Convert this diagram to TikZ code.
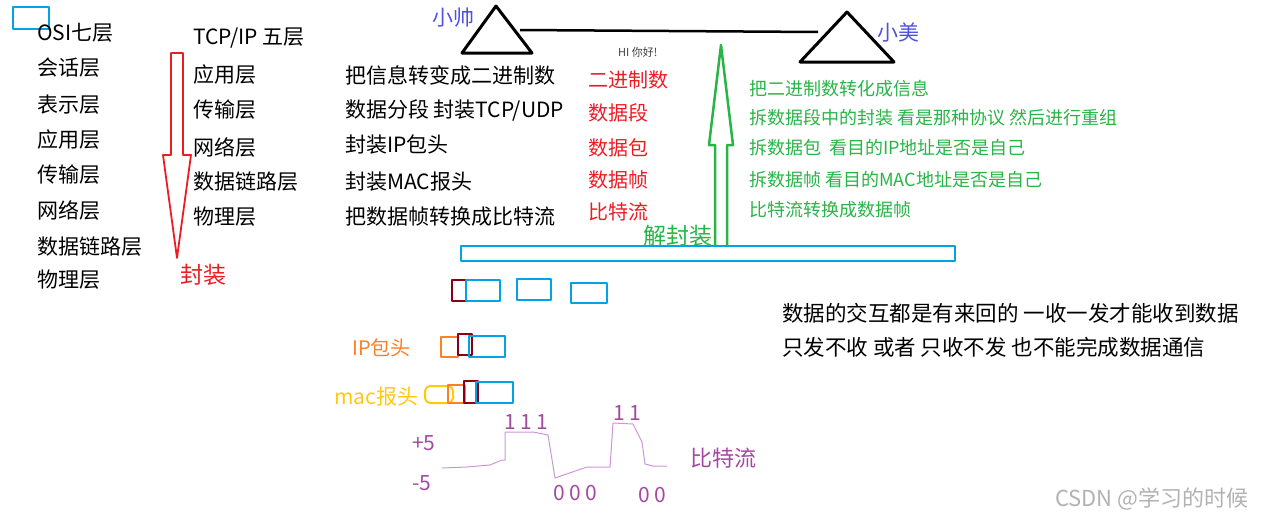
\documentclass[tikz,border=0pt]{standalone}
\usepackage{fontspec}
\setmainfont{Noto Sans CJK SC}
\usetikzlibrary{positioning}
\definecolor{boxblue}{RGB}{0,162,232}
\definecolor{hdrred}{RGB}{136,0,21}
\definecolor{hdrorange}{RGB}{255,127,39}
\definecolor{hdryellow}{RGB}{255,201,14}
\definecolor{encred}{RGB}{237,28,36}
\definecolor{decgreen}{RGB}{40,180,70}
\definecolor{namblue}{RGB}{80,80,225}
\definecolor{bitpurple}{RGB}{163,73,164}
\definecolor{wavepurple}{RGB}{205,150,215}

\begin{document}
\begin{tikzpicture}[x=1pt, y=-1pt, line join=round,
   txt/.style={anchor=west, inner sep=0pt, font=\fontsize{21}{25}\selectfont},
   small/.style={anchor=west, inner sep=0pt, font=\fontsize{18}{22}\selectfont},
   hdr/.style={line width=2pt}]
\useasboundingbox (0,0) rectangle (1272,522);

% OSI seven layers
\draw[hdr, boxblue] (13,7) rectangle (49,29);
\node[txt] (osi)  at (37,33)  {OSI七层};
\node[txt] (osi1) at (37,68)  {会话层};
\node[txt] (osi2) at (37,105) {表示层};
\node[txt] (osi3) at (37,140) {应用层};
\node[txt] (osi4) at (37,175) {传输层};
\node[txt] (osi5) at (37,210) {网络层};
\node[txt] (osi6) at (37,247) {数据链路层};
\node[txt] (osi7) at (37,280) {物理层};

% TCP/IP five layers
\node[txt] (tcp)  at (193,38)  {TCP/IP 五层};
\node[txt] (tcp1) at (193,75)  {应用层};
\node[txt] (tcp2) at (193,110) {传输层};
\node[txt] (tcp3) at (193,147) {网络层};
\node[txt] (tcp4) at (193,182) {数据链路层};
\node[txt] (tcp5) at (193,217) {物理层};

% encapsulation arrow
\draw[encred, line width=1.8pt] (171,53) -- (183,53) -- (183,155) -- (191,155) -- (177,258)
   -- (163,155) -- (171,155) -- cycle;
\node[txt, encred, font=\fontsize{23}{27}\selectfont] (enc) at (180,275) {封装};

% the two hosts
\draw[line width=3pt] (496,6) -- (532,53) -- (462,53) -- cycle;
\draw[line width=3pt] (847,12) -- (894,62) -- (800,62) -- cycle;
\coordinate (shuai) at (520,30);
\coordinate (mei) at (818,32);
\draw[line width=2.5pt] (shuai) -- (mei);
\node[txt, namblue] (nshuai) at (432,18) {小帅};
\node[txt, namblue] (nmei) at (877,32) {小美};
\node[anchor=west, inner sep=0pt, font=\fontsize{11}{13}\selectfont, black!75] (hi) at (618,52) {HI 你好!};

% sender side
\node[txt] (s1) at (345,75)  {把信息转变成二进制数};
\node[txt] (s2) at (345,110) {数据分段 封装TCP/UDP};
\node[txt] (s3) at (345,145) {封装IP包头};
\node[txt] (s4) at (345,182) {封装MAC报头};
\node[txt] (s5) at (345,217) {把数据帧转换成比特流};

\node[txt, encred, font=\fontsize{20}{24}\selectfont] (u1) at (588,80)  {二进制数};
\node[txt, encred, font=\fontsize{20}{24}\selectfont] (u2) at (588,113) {数据段};
\node[txt, encred, font=\fontsize{20}{24}\selectfont] (u3) at (588,148) {数据包};
\node[txt, encred, font=\fontsize{20}{24}\selectfont] (u4) at (588,180) {数据帧};
\node[txt, encred, font=\fontsize{20}{24}\selectfont] (u5) at (588,212) {比特流};

% decapsulation arrow
\draw[decgreen, line width=2.5pt] (715,246) -- (715,145) -- (709,145) -- (721,45) -- (733,145)
   -- (727,145) -- (727,246);
\node[txt, decgreen, font=\fontsize{23}{27}\selectfont] (dec) at (643,236) {解封装};

% receiver side
\node[small, decgreen] (r1) at (749,89)  {把二进制数转化成信息};
\node[small, decgreen] (r2) at (749,118) {拆数据段中的封装 看是那种协议 然后进行重组};
\node[small, decgreen] (r3) at (749,148) {拆数据包\ \ 看目的IP地址是否是自己};
\node[small, decgreen] (r4) at (749,180) {拆数据帧 看目的MAC地址是否是自己};
\node[small, decgreen] (r5) at (749,210) {比特流转换成数据帧};

% the medium
\draw[boxblue, line width=2.5pt] (461,246) rectangle (955,261);

% headers
\draw[hdr, hdrred]  (452,280) rectangle (466,301);
\draw[hdr, boxblue] (466,280) rectangle (500,301);
\draw[hdr, boxblue] (517,279) rectangle (551,300);
\draw[hdr, boxblue] (571,283) rectangle (607,303);

\node[txt, hdrorange, font=\fontsize{20}{24}\selectfont] (ip) at (352,348) {IP包头};
\draw[hdr, hdrorange] (441,337) rectangle (458,357);
\draw[hdr, hdrred]    (458,334) rectangle (472,355);
\draw[hdr, boxblue]   (469,336) rectangle (505,357);

\node[txt, hdryellow] (mac) at (334,397) {mac报头};
\draw[hdr, hdryellow, rounded corners=5pt] (425,386) rectangle (453,403);
\draw[hdr, hdrorange] (448,385) rectangle (465,403);
\draw[hdr, hdrred]    (464,381) rectangle (478,403);
\draw[hdr, boxblue]   (476,382) rectangle (513,403);

% bit stream
\draw[wavepurple, line width=1pt] (442,468) -- (467,467) -- (490,465) -- (502,460) -- (505,460)
   -- (505,432) -- (533,432) -- (548,435) -- (555,478) -- (587,467) -- (610,467) -- (613,423)
   -- (633,424) -- (642,442) -- (645,464) -- (653,466) -- (667,466);
\node[txt, bitpurple] (hi5) at (412,443) {+5};
\node[txt, bitpurple] (lo5) at (412,483) {-5};
\node[txt, bitpurple] (b1) at (504,422) {1 1 1};
\node[txt, bitpurple] (b2) at (613,413) {1 1};
\node[txt, bitpurple] (b3) at (553,493) {0 0 0};
\node[txt, bitpurple] (b4) at (638,495) {0 0};
\node[txt, bitpurple, font=\fontsize{22}{26}\selectfont] (bits) at (690,458) {比特流};

% note
\node[txt, font=\fontsize{21.5}{25}\selectfont] (n1) at (782,313) {数据的交互都是有来回的 一收一发才能收到数据};
\node[txt, font=\fontsize{21.5}{25}\selectfont] (n2) at (782,347) {只发不收 或者 只收不发 也不能完成数据通信};

\node[anchor=west, inner sep=0pt, font=\fontsize{22}{26}\selectfont, black!30] (mark) at (1055,499) {CSDN @学习的时候};
\end{tikzpicture}
\end{document}
